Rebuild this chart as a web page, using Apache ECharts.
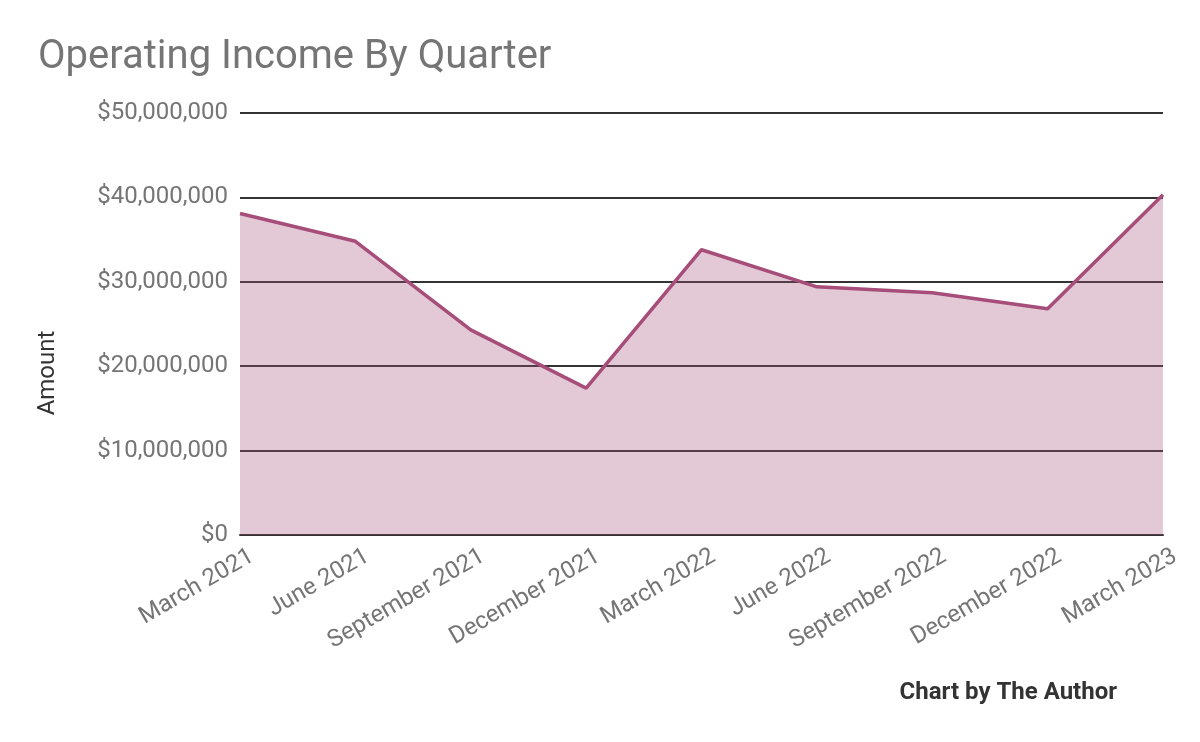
<!DOCTYPE html>
<html>
<head>
<meta charset="utf-8">
<script src="https://cdn.jsdelivr.net/npm/echarts@6/dist/echarts.min.js"></script>
<style>
  html, body { margin: 0; padding: 0; background: #fff; }
  #chart { width: 1200px; height: 742px; }
</style>
</head>
<body>
<div id="chart"></div>
<script>
// quarters on the x axis
var quarters = ['March 2021', 'June 2021', 'September 2021', 'December 2021',
  'March 2022', 'June 2022', 'September 2022', 'December 2022', 'March 2023'];
// operating income per quarter
var income = [38100000, 34800000, 24300000, 17400000, 33800000,
  29400000, 28700000, 26800000, 40300000];

var myChart = echarts.init(document.getElementById('chart'));

function money(v){
  return '$' + String(v).replace(/\B(?=(\d{3})+(?!\d))/g, ',');
}

var option = {
  animation: false,
  textStyle: { fontFamily: 'Roboto' },
  title: {
    text: 'Operating Income By Quarter',
    left: 33, top: 33,
    textStyle: { fontFamily: 'Roboto', fontSize: 40, fontWeight: 'normal', color: '#757575' }
  },
  graphic: [{
    type: 'text', right: 83, top: 681,
    style: { text: 'Chart by The Author', font: 'bold 24px Roboto', fill: '#333333' }
  }, {
    // y axis title sits below the middle of the axis in the original
    type: 'text', x: 48, y: 373, rotation: Math.PI / 2,
    style: { text: 'Amount', font: '24px Roboto', fill: '#333333', align: 'center', verticalAlign: 'middle' }
  }],
  grid: { left: 240, right: 37, top: 113, bottom: 207 },
  xAxis: {
    type: 'category',
    data: quarters,
    boundaryGap: false,
    axisTick: { show: false },
    axisLine: { show: true, lineStyle: { color: '#333333', width: 2 } },
    axisLabel: {
      rotate: 30, fontSize: 24, color: '#757575', margin: 13, fontFamily: 'Roboto',
      verticalAlign: 'top', padding: [0, -7, 0, 0]
    }
  },
  yAxis: {
    type: 'value',
    min: 0, max: 50000000, interval: 10000000,
    axisLine: { show: false },
    axisTick: { show: false },
    axisLabel: { formatter: money, fontSize: 24, color: '#757575', margin: 12, fontFamily: 'Roboto' },
    splitLine: { lineStyle: { color: '#333333', width: 2 } }
  },
  series: [{
    type: 'line',
    data: income,
    symbol: 'none',
    lineStyle: { color: '#a64d79', width: 3.5 },
    areaStyle: { color: '#a64d79', opacity: 0.31 }
  }]
};

myChart.setOption(option);
</script>
</body>
</html>
